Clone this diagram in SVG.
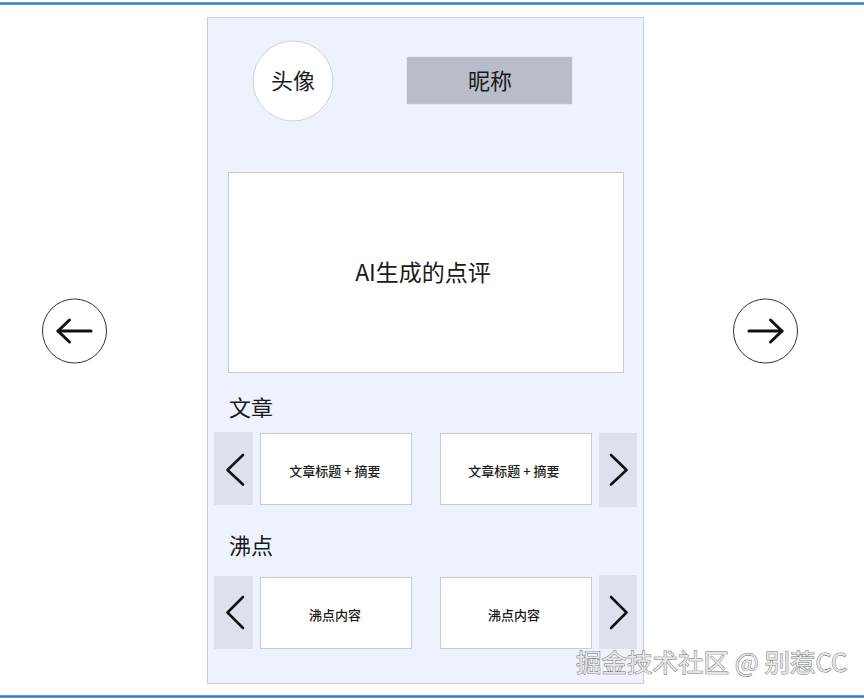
<svg xmlns="http://www.w3.org/2000/svg" width="864" height="699" viewBox="0 0 864 699">
<defs>
<style>
text{font-family:"Noto Sans CJK SC","Noto Sans",sans-serif;fill:#1a1a1a}
.t22{font-size:22px}
.t13{font-size:13px;text-anchor:middle;font-weight:500}
.card{fill:#fff;stroke:#c9ccd4;stroke-width:1}
.navbox{fill:#dde1eb}
.chev{fill:none;stroke:#111;stroke-width:2.6;stroke-linecap:round;stroke-linejoin:round}
.arr{fill:none;stroke:#111;stroke-width:3;stroke-linecap:round;stroke-linejoin:round}
.rule{stroke:#3479d6;stroke-width:2.4}
</style>
</defs>
<rect width="864" height="699" fill="#fff"/>
<line class="rule" x1="0" y1="3.5" x2="864" y2="3.5"/>
<line class="rule" x1="0" y1="696.5" x2="864" y2="696.5"/>

<g id="panel">
<rect x="207.5" y="17.5" width="436" height="666" fill="#eef2fd" stroke="#c9cdd6" stroke-width="1"/>
</g>

<g id="avatar">
<circle cx="293" cy="81" r="40" fill="#fff" stroke="#cfd2d9" stroke-width="1"/>
<text class="t22" x="293" y="89" text-anchor="middle">头像</text>
</g>

<g id="nickname">
<rect x="407" y="57" width="165" height="47" fill="#b9bdc9" stroke="#c9ccd4" stroke-width="0.5"/>
<text class="t22" x="490" y="89" text-anchor="middle">昵称</text>
</g>

<g id="ai-review">
<rect x="228.5" y="172.5" width="395" height="200" class="card"/>
<text x="423" y="281" text-anchor="middle" style="font-size:23px">AI生成的点评</text>
</g>

<g id="articles-label"><text class="t22" x="229" y="416">文章</text></g>

<g id="article-prev">
<rect x="214" y="432" width="39" height="73" class="navbox"/>
<polyline class="chev" points="243,455 227.5,470 243,484.5"/>
</g>
<g id="article-card-1">
<rect x="260.5" y="433.5" width="151" height="71" class="card"/>
<text class="t13" x="335" y="476">文章标题 + 摘要</text>
</g>
<g id="article-card-2">
<rect x="440.5" y="433.5" width="151" height="71" class="card"/>
<text class="t13" x="514" y="476">文章标题 + 摘要</text>
</g>
<g id="article-next">
<rect x="599" y="433" width="38" height="74" class="navbox"/>
<polyline class="chev" points="611,455 626.5,470 611,484.5"/>
</g>

<g id="posts-label"><text class="t22" x="229" y="554">沸点</text></g>

<g id="post-prev">
<rect x="214" y="576" width="39" height="73" class="navbox"/>
<polyline class="chev" points="243,597 227.5,612.5 243,628"/>
</g>
<g id="post-card-1">
<rect x="260.5" y="577.5" width="151" height="71" class="card"/>
<text class="t13" x="335" y="620">沸点内容</text>
</g>
<g id="post-card-2">
<rect x="440.5" y="577.5" width="151" height="71" class="card"/>
<text class="t13" x="514" y="620">沸点内容</text>
</g>
<g id="post-next">
<rect x="599" y="575" width="38" height="74" class="navbox"/>
<polyline class="chev" points="611,597 626.5,612.5 611,628"/>
</g>

<g id="prev-page">
<circle cx="74.5" cy="331" r="32" fill="#fff" stroke="#333" stroke-width="1"/>
<line class="arr" x1="58" y1="331" x2="91" y2="331"/>
<polyline class="arr" points="69.5,320 58,331 69.5,342"/>
</g>
<g id="next-page">
<circle cx="765.5" cy="331" r="32" fill="#fff" stroke="#333" stroke-width="1"/>
<line class="arr" x1="749" y1="331" x2="782" y2="331"/>
<polyline class="arr" points="770.5,320 782,331 770.5,342"/>
</g>

<g id="watermark">
<text x="576" y="672" style="font-size:25.5px;fill:#e6e6e6;stroke:#6f6f6f;stroke-width:0.9;paint-order:stroke">掘金技术社区 @ 别惹CC</text>
</g>
</svg>
